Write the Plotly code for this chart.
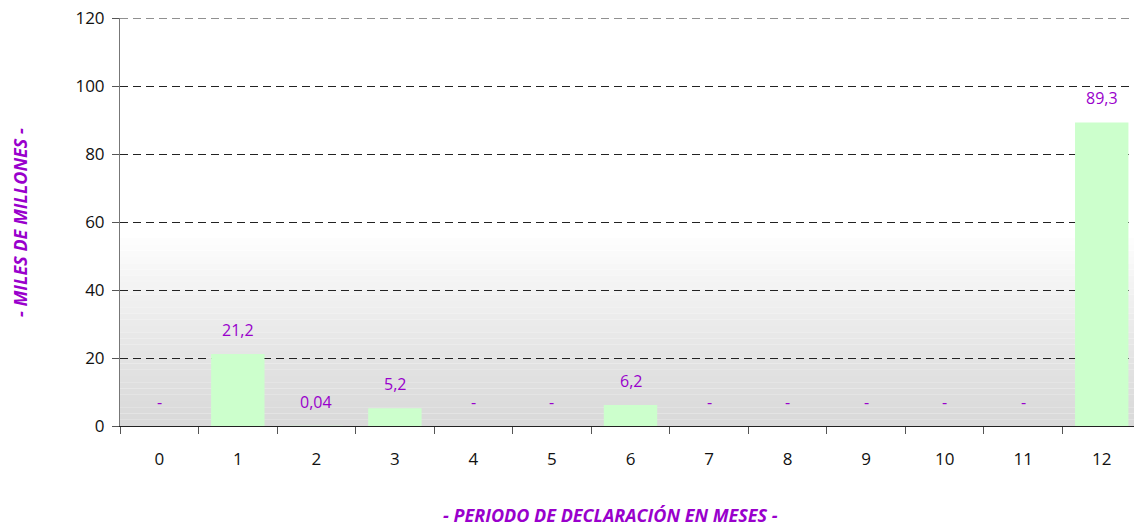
import plotly.graph_objects as go

MESES = ['0', '1', '2', '3', '4', '5', '6', '7', '8', '9', '10', '11', '12']
VALORES = [0, 21.2, 0.04, 5.2, 0, 0, 6.2, 0, 0, 0, 0, 0, 89.3]
ETIQUETAS = ['-', '21,2', '0,04', '5,2', '-', '-', '6,2', '-', '-', '-', '-', '-', '89,3']

PURPLE = '#9900cc'
FONT = 'Open Sans, Liberation Sans, sans-serif'
W, H = 1141, 526  # plot runs a few px past the right edge of the window
DASH = '8px,5px'

fig = go.Figure()
fig.add_trace(go.Bar(x=MESES, y=VALORES, marker_color='#ccffcc',
                     marker_line_width=0, width=0.68, hoverinfo='skip'))

# value labels above each bar
for mes, val, txt in zip(MESES, VALORES, ETIQUETAS):
    fig.add_annotation(x=mes, y=val, text=txt, showarrow=False,
                       yanchor='middle', yshift=24,
                       font=dict(family=FONT, size=16, color=PURPLE))

# soft grey gradient at the bottom of the plot area
steps = 30
for i in range(steps):
    y0 = 0.46 * i / steps
    y1 = 0.46 * (i + 1) / steps
    g = int(218 + (255 - 218) * (i / steps) ** 1.2)
    fig.add_shape(type='rect', xref='x domain', yref='y domain',
                  x0=0, x1=1, y0=y0, y1=y1, line_width=0,
                  fillcolor=f'rgb({g},{g},{g})', layer='below')

# top gridline sits on the plot edge, draw it by hand
fig.add_shape(type='line', xref='x domain', yref='y', x0=0, x1=1,
              y0=120, y1=120, line=dict(color='#222222', width=1, dash=DASH))

# axis titles
fig.add_annotation(xref='paper', yref='paper', x=0.48, y=-0.217,
                   xanchor='center', yanchor='middle', showarrow=False,
                   text='<b><i>- PERIODO DE DECLARACIÓN EN MESES -</i></b>',
                   font=dict(family=FONT, size=18, color=PURPLE))
fig.add_annotation(xref='paper', yref='paper', x=-0.098, y=0.5,
                   xanchor='center', yanchor='middle', showarrow=False,
                   textangle=-90,
                   text='<b><i>- MILES DE MILLONES -</i></b>',
                   font=dict(family=FONT, size=18, color=PURPLE))

fig.update_layout(
    width=W, height=H,
    margin=dict(l=120, r=0, t=18, b=100),
    plot_bgcolor='white', paper_bgcolor='white',
    showlegend=False,
    font=dict(family=FONT, size=17, color='#111111'),
    xaxis=dict(type='category', range=[-0.5, 12.5], tickson='boundaries',
               ticks='outside', ticklen=7, tickcolor='#555555',
               ticklabelstandoff=18, automargin=False,
               showline=True, linecolor='#222222', linewidth=1,
               showgrid=False),
    yaxis=dict(range=[0, 120], dtick=20, ticks='outside', ticklen=7,
               tickcolor='#555555', showline=True, linecolor='#777777',
               ticklabelstandoff=4, automargin=False,
               linewidth=1, showgrid=True, gridcolor='#222222',
               griddash=DASH, gridwidth=1, zeroline=False),
)

# page has a default body margin; remove it so the figure fills the window
post = ("document.body.style.margin='0';"
        "document.body.style.overflow='hidden';"
        "var gd=document.getElementById('{plot_id}');"
        "Plotly.relayout(gd,{width:%d,height:%d});" % (W, H))
fig.write_html('out.html', post_script=post,
               config={'displayModeBar': False, 'staticPlot': True})
